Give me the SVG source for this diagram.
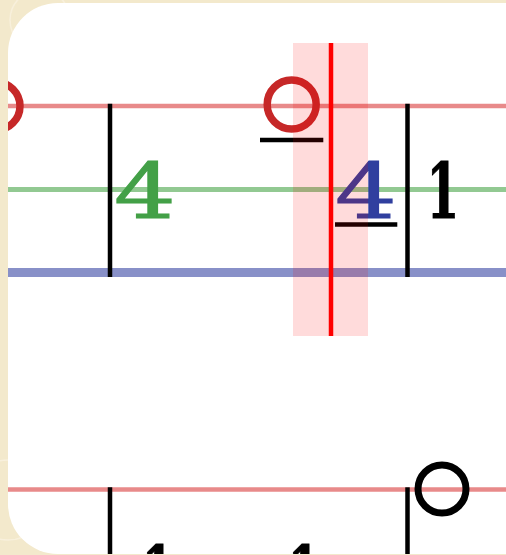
<svg xmlns="http://www.w3.org/2000/svg" width="506" height="555" viewBox="0 0 506 555">
  <defs>
    <clipPath id="panelClip">
      <rect x="8" y="3" width="560" height="551" rx="50" ry="50"/>
    </clipPath>
    <style>
      .staff-red { stroke: #e88a8a; stroke-width: 4.5; }
      .staff-green { stroke: #92c992; stroke-width: 5; }
      .staff-blue { stroke: #8890c8; stroke-width: 9; }
      .bar { stroke: #000; stroke-width: 4.5; }
      .digit { font-family: "DejaVu Serif", "Liberation Serif", serif; font-size: 76px; text-anchor: middle; stroke-width: 1; }
      .one { font-weight: bold; }
      .uline { stroke: #000; stroke-width: 4.5; }
    </style>
  </defs>
  <rect x="0" y="0" width="506" height="555" fill="#f3e9cc"/>
  <g fill="none" stroke="#f8f1de" stroke-width="1.5" opacity="0.9">
    <circle cx="40" cy="20" r="30"/>
    <circle cx="8" cy="500" r="40"/>
  </g>
  <rect x="8" y="3" width="560" height="551" rx="50" ry="50" fill="#ffffff"/>
  <g clip-path="url(#panelClip)">
    <g id="staff-lines">
      <line class="staff-red" x1="0" y1="106" x2="506" y2="106"/>
      <line class="staff-green" x1="0" y1="189.5" x2="506" y2="189.5"/>
      <line class="staff-blue" x1="0" y1="272.5" x2="506" y2="272.5"/>
      <line class="staff-red" x1="0" y1="489.5" x2="506" y2="489.5"/>
    </g>
    <g id="bars">
      <line class="bar" x1="110" y1="103.8" x2="110" y2="277"/>
      <line class="bar" x1="407.5" y1="103.8" x2="407.5" y2="277"/>
      <line class="bar" x1="110" y1="487.3" x2="110" y2="556"/>
      <line class="bar" x1="407.5" y1="487.3" x2="407.5" y2="556"/>
    </g>
    <g id="rest-left">
      <circle cx="-4" cy="106" r="24" fill="none" stroke="#c62828" stroke-width="7.5"/>
    </g>
    <g id="rest-red">
      <circle cx="291.7" cy="104.5" r="24.5" fill="none" stroke="#c62828" stroke-width="7.5"/>
      <line class="uline" x1="260" y1="140" x2="323.3" y2="140"/>
    </g>
    <g id="note-green-4">
      <text class="digit" transform="translate(145,218) scale(1.28,1)" fill="#43a047" stroke="#43a047">4</text>
    </g>
    <g id="note-blue-4">
      <text class="digit" transform="translate(366,217.5) scale(1.28,1)" fill="#303f9f" stroke="#303f9f">4</text>
      <line class="uline" x1="335" y1="224.5" x2="397.3" y2="224.5"/>
    </g>
    <g id="note-1">
      <text class="digit one" transform="translate(443,217.5) scale(0.62,1)" fill="#000" stroke="#000">1</text>
    </g>
    <g id="rest-black">
      <circle cx="442" cy="489" r="24" fill="none" stroke="#000" stroke-width="7"/>
    </g>
    <g id="note-bottom-1a">
      <text class="digit one" transform="translate(158,601.3) scale(0.62,1)" fill="#000" stroke="#000">1</text>
    </g>
    <g id="note-bottom-1b">
      <text class="digit one" transform="translate(304,601.3) scale(0.62,1)" fill="#000" stroke="#000">1</text>
    </g>
    <g id="playhead">
      <rect x="293" y="43" width="75" height="293" fill="#ff0000" fill-opacity="0.14"/>
      <line x1="331" y1="43" x2="331" y2="336" stroke="#ff0000" stroke-width="4.5"/>
    </g>
  </g>
</svg>
